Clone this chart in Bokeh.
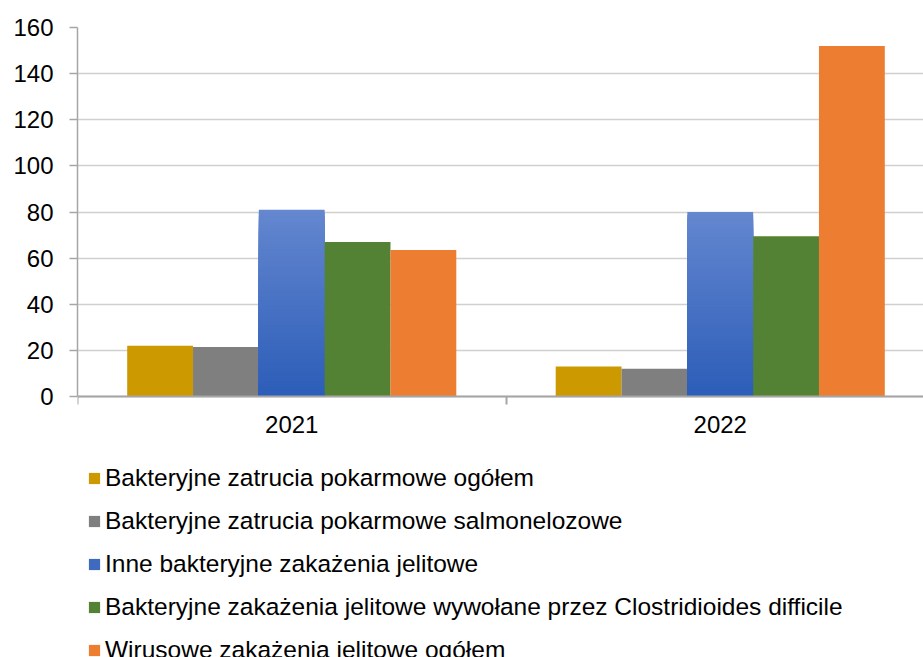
from bokeh.plotting import figure
from bokeh.models import (Range1d, FixedTicker, Legend, LegendItem, ColumnDataSource)
from bokeh.embed import file_html
from bokeh.resources import INLINE

# ---- data ----
years = ["2021", "2022"]
series_names = [
    "Bakteryjne zatrucia pokarmowe ogółem",
    "Bakteryjne zatrucia pokarmowe salmonelozowe",
    "Inne bakteryjne zakażenia jelitowe",
    "Bakteryjne zakażenia jelitowe wywołane przez Clostridioides difficile",
    "Wirusowe zakażenia jelitowe ogółem",
]
bakt_ogolem = [22, 13]
bakt_salmonella = [21.5, 12]
inne_bakt = [81, 80]
clostridioides = [67, 69.5]
wirusowe = [63.5, 152]
y_ticks = [0, 20, 40, 60, 80, 100, 120, 140, 160]

series_values = [bakt_ogolem, bakt_salmonella, inne_bakt, clostridioides, wirusowe]
colors = ["#CC9900", "#7F7F7F", "#4472C4", "#548235", "#ED7D31"]

FONT = "Liberation Sans"
FS = "24px"
LEG_FS = "24.5px"

centers = [i + 0.5 for i in range(len(years))]
bar_w = 0.1536

# frame spans from y=160 down to the bottom of the page; the x axis sits at y=0
y_max = 160
px_per_unit = 369 / y_max
y_min = -261 / px_per_unit

p = figure(width=923, height=657, output_backend="svg", toolbar_location=None,
           x_range=Range1d(0, 846 / 428.5), y_range=Range1d(y_min, y_max),
           min_border_left=77, min_border_right=0, min_border_top=27,
           min_border_bottom=0)
p.outline_line_color = None
p.background_fill_color = "white"
p.border_fill_color = "white"

renderers = []
for k, (vals, col) in enumerate(zip(series_values, colors)):
    xs = [c + (k - 2) * bar_w for c in centers]
    if k == 2:
        # vertical gradient: lighter at top, darker at bottom (overlapping bars, no seams)
        N = 60
        top = (100, 135, 207)
        bot = (44, 93, 184)
        gx, gt, gc = [], [], []
        for j in range(N - 1, -1, -1):
            f = (j + 0.5) / N
            rgb = tuple(int(round(bot[i] + (top[i] - bot[i]) * f)) for i in range(3))
            for x, v in zip(xs, vals):
                gx.append(x)
                gt.append(v * (j + 1) / N)
                gc.append("#%02x%02x%02x" % rgb)
        src = ColumnDataSource(dict(x=gx, top=gt, color=gc))
        r = p.vbar(x="x", bottom=0, top="top", width=bar_w, source=src,
                   fill_color="color", line_color=None)
        renderers.append((r, N + 20))  # mid-tone entry for legend swatch
    else:
        src = ColumnDataSource(dict(x=xs, top=vals))
        r = p.vbar(x="x", top="top", bottom=0, width=bar_w, source=src,
                   fill_color=col, line_color=None)
        renderers.append((r, 0))

# axes
p.yaxis.ticker = FixedTicker(ticks=y_ticks)
p.yaxis.bounds = (0, y_max)
p.yaxis.axis_line_color = "#A6A6A6"
p.yaxis.axis_line_width = 1.5
p.yaxis.major_tick_line_color = "#A6A6A6"
p.yaxis.major_tick_line_width = 1.5
p.yaxis.major_tick_out = 8
p.yaxis.major_tick_in = 0
p.yaxis.minor_tick_line_color = None
p.yaxis.major_label_standoff = 16
p.yaxis.major_label_text_font = FONT
p.yaxis.major_label_text_font_size = FS
p.yaxis.major_label_text_color = "black"

p.xaxis.fixed_location = 0
p.xaxis.ticker = FixedTicker(ticks=centers, minor_ticks=[0, 1, 2])
p.xaxis.major_label_overrides = {c: y for c, y in zip(centers, years)}
p.xaxis.axis_line_color = "#A6A6A6"
p.xaxis.axis_line_width = 2
p.xaxis.major_tick_line_color = None
p.xaxis.major_tick_out = 0
p.xaxis.major_tick_in = 0
p.xaxis.minor_tick_line_color = "#A6A6A6"
p.xaxis.minor_tick_line_width = 2
p.xaxis.minor_tick_out = 8
p.xaxis.minor_tick_in = 0
p.xaxis.major_label_standoff = 11
p.xaxis.major_label_text_font = FONT
p.xaxis.major_label_text_font_size = FS
p.xaxis.major_label_text_color = "black"

p.xgrid.grid_line_color = None
p.ygrid.grid_line_color = "#D0D0D0"
p.ygrid.grid_line_width = 1.5

items = [LegendItem(label=name, renderers=[r], index=idx)
         for name, (r, idx) in zip(series_names, renderers)]
legend = Legend(items=items, location=(10, -7), orientation="vertical",
                padding=0, margin=0, spacing=15, glyph_width=14, glyph_height=14,
                label_height=14, label_standoff=4,
                label_text_font=FONT, label_text_font_size=LEG_FS,
                label_text_color="black", border_line_color=None,
                background_fill_alpha=0)
p.add_layout(legend, "center")

open("out.html", "w").write(file_html(p, INLINE))
